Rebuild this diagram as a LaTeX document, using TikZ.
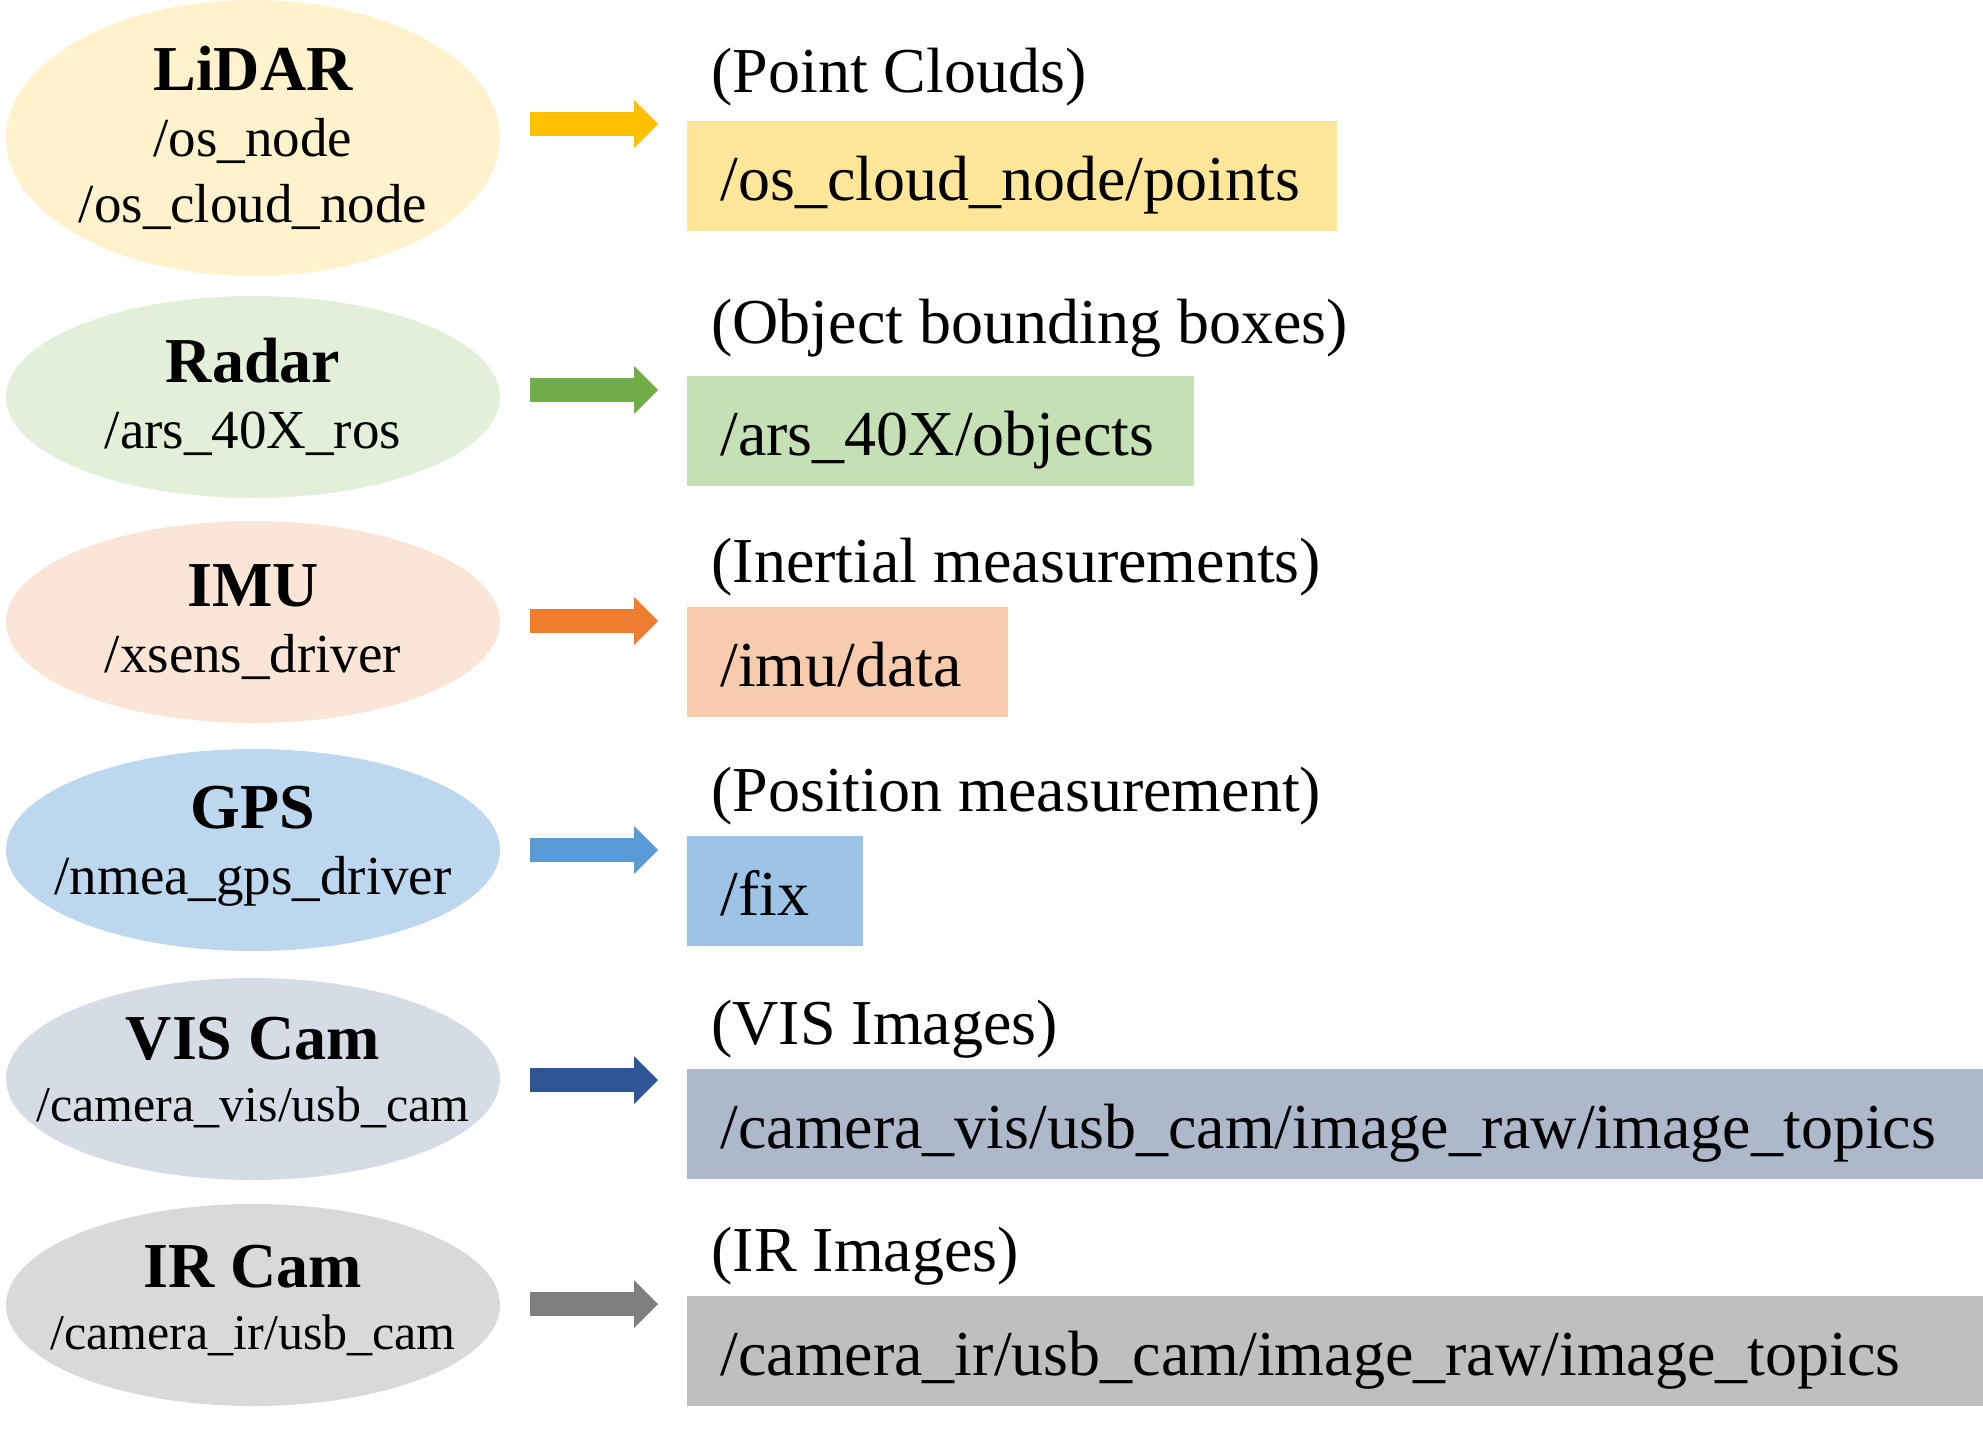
\documentclass[tikz,border=0pt]{standalone}
\usepackage{fontspec}
\setmainfont{Liberation Serif}
\usepackage{tikz}
\usetikzlibrary{arrows.meta, positioning, shapes.geometric}
\usepackage{xcolor}
\definecolor{lidarL}{HTML}{FFF2CC}
\definecolor{lidarB}{HTML}{FFE699}
\definecolor{lidarA}{HTML}{FFC000}
\definecolor{radarL}{HTML}{E2F0D9}
\definecolor{radarB}{HTML}{C5E0B4}
\definecolor{radarA}{HTML}{70AD47}
\definecolor{imuL}{HTML}{FBE5D6}
\definecolor{imuB}{HTML}{F8CBAD}
\definecolor{imuA}{HTML}{ED7D31}
\definecolor{gpsL}{HTML}{BDD7EE}
\definecolor{gpsB}{HTML}{9DC3E6}
\definecolor{gpsA}{HTML}{5B9BD5}
\definecolor{visL}{HTML}{D6DCE5}
\definecolor{visB}{HTML}{ADB9CA}
\definecolor{visA}{HTML}{2F5597}
\definecolor{irL}{HTML}{D9D9D9}
\definecolor{irB}{HTML}{BFBFBF}
\definecolor{irA}{HTML}{7F7F7F}

\tikzset{
  sensor/.style={ellipse, minimum width=247pt, minimum height=101pt, inner sep=0pt},
  sensortext/.style={align=center, font=\fontsize{27.5}{33}\selectfont},
  topic/.style={anchor=west, minimum height=55pt, inner xsep=16.5pt, inner ysep=0pt, text height=30pt, text depth=6pt, align=left, font=\fontsize{32}{38}\selectfont},
  msg/.style={inner sep=0pt, font=\fontsize{32}{38}\selectfont},
  feed/.style={line width=12pt, -{Triangle[length=12pt, width=24pt, line width=0pt]}, shorten >=14.5pt},
}

\begin{document}
\begin{tikzpicture}[x=0.5pt, y=-0.5pt]
  \useasboundingbox (0,0) rectangle (1983,1429);

  % sensors
  \node[sensor, fill=lidarL, minimum height=138pt] (lidar) at (253,138) {};
  \node[sensor, fill=radarL] (radar) at (253,397) {};
  \node[sensor, fill=imuL] (imu) at (253,622) {};
  \node[sensor, fill=gpsL] (gps) at (253,850) {};
  \node[sensor, fill=visL] (vis) at (253,1079) {};
  \node[sensor, fill=irL] (ir) at (253,1305) {};

  \node[sensortext] (lidartxt) at (lidar) {{\fontsize{32}{34}\selectfont\bfseries LiDAR}\\/os\_node\\/os\_cloud\_node};
  \node[sensortext] (radartxt) at (radar) {{\fontsize{32}{34}\selectfont\bfseries Radar}\\/ars\_40X\_ros};
  \node[sensortext] (imutxt) at (imu) {{\fontsize{32}{34}\selectfont\bfseries IMU}\\/xsens\_driver};
  \node[sensortext] (gpstxt) at ([yshift=2pt]gps) {{\fontsize{32}{34}\selectfont\bfseries GPS}\\/nmea\_gps\_driver};
  \node[sensortext, font=\fontsize{25}{31}\selectfont] (vistxt) at ([yshift=3pt]vis) {{\fontsize{32}{34}\selectfont\bfseries VIS Cam}\\/camera\_vis/usb\_cam};
  \node[sensortext, font=\fontsize{25}{31}\selectfont] (irtxt) at ([yshift=2pt]ir) {{\fontsize{32}{34}\selectfont\bfseries IR Cam}\\/camera\_ir/usb\_cam};

  % topics
  \node[topic, fill=lidarB, text width=292pt] (b1) at (687,176) {/os\_cloud\_node/points};
  \node[topic, fill=radarB, text width=220.5pt] (b2) at (687,431) {/ars\_40X/objects};
  \node[topic, fill=imuB, text width=127.5pt] (b3) at (687,662) {/imu/data};
  \node[topic, fill=gpsB, text width=55pt] (b4) at (687,891) {/fix};
  \node[topic, fill=visB, text width=615pt] (b5) at (687,1124) {/camera\_vis/usb\_cam/image\_raw/image\_topics};
  \node[topic, fill=irB, text width=615pt] (b6) at (687,1351) {/camera\_ir/usb\_cam/image\_raw/image\_topics};

  \node[msg, above right=7pt and 12pt of b1.north west] (m1) {(Point Clouds)};
  \node[msg, above right=9pt and 12pt of b2.north west] (m2) {(Object bounding boxes)};
  \node[msg, above right=5pt and 12pt of b3.north west] (m3) {(Inertial measurements)};
  \node[msg, above right=5pt and 12pt of b4.north west] (m4) {(Position measurement)};
  \node[msg, above right=5pt and 12pt of b5.north west] (m5) {(VIS Images)};
  \node[msg, above right=5pt and 12pt of b6.north west] (m6) {(IR Images)};

  % arrows
  \coordinate (s1) at (530,124);
  \coordinate (s2) at (530,390);
  \coordinate (s3) at (530,621);
  \coordinate (s4) at (530,850);
  \coordinate (s5) at (530,1080);
  \coordinate (s6) at (530,1304);
  \draw[feed, lidarA] (s1) -- (s1 -| b1.west);
  \draw[feed, radarA] (s2) -- (s2 -| b2.west);
  \draw[feed, imuA] (s3) -- (s3 -| b3.west);
  \draw[feed, gpsA] (s4) -- (s4 -| b4.west);
  \draw[feed, visA] (s5) -- (s5 -| b5.west);
  \draw[feed, irA] (s6) -- (s6 -| b6.west);
\end{tikzpicture}
\end{document}
